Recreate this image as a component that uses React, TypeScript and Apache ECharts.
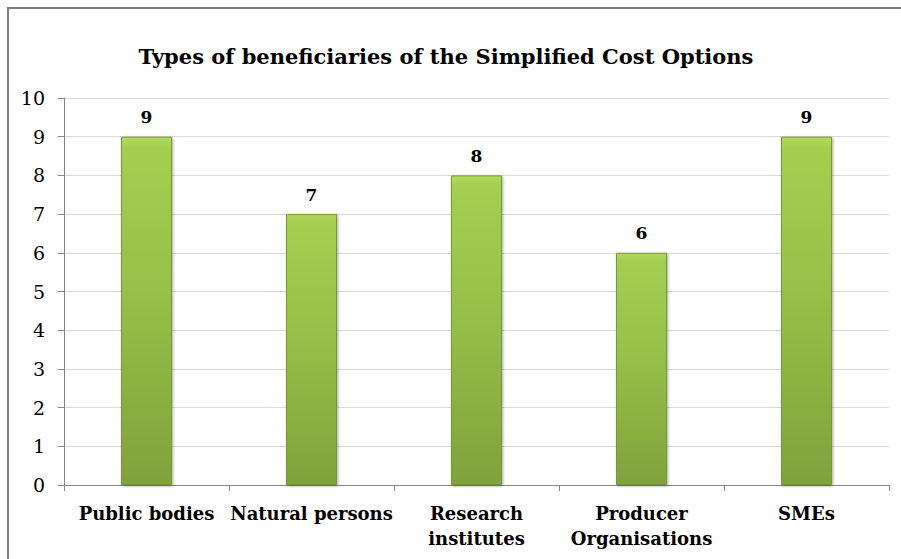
import React, { useEffect, useRef } from "react";
import * as echarts from "echarts";

const categories = ["Public bodies", "Natural persons", "Research\ninstitutes", "Producer\nOrganisations", "SMEs"];
const values = [9, 7, 8, 6, 9];
const titleText = "Types of beneficiaries of the Simplified Cost Options";
const FONT = "'DejaVu Serif', serif";

export default function App() {
  const ref = useRef<HTMLDivElement>(null);
  useEffect(() => {
    if (!ref.current) return;
    const chart = echarts.init(ref.current, null, { renderer: "svg" });
    chart.setOption({
      animation: false,
      backgroundColor: "#ffffff",
      title: {
        text: titleText,
        left: 432,
        top: 32,
        textAlign: "center",
        textStyle: { fontFamily: FONT, fontWeight: "bold", fontSize: 21, color: "#000" },
      },
      grid: { left: 55, top: 89, width: 825, height: 387, containLabel: false },
      xAxis: {
        type: "category",
        data: categories,
        axisLine: { lineStyle: { color: "#868686" } },
        axisTick: { show: true, alignWithLabel: false, length: 6, lineStyle: { color: "#868686" } },
        axisLabel: {
          interval: 0,
          fontFamily: FONT,
          fontWeight: "bold",
          fontSize: 18,
          color: "#000",
          lineHeight: 25,
          margin: 16,
        },
      },
      yAxis: {
        type: "value",
        min: 0,
        max: 10,
        interval: 1,
        axisLine: { show: true, lineStyle: { color: "#868686" } },
        axisTick: { show: true, length: 6, inside: false, lineStyle: { color: "#868686" } },
        splitLine: { lineStyle: { color: "#d9d9d9" } },
        axisLabel: { fontFamily: FONT, fontSize: 19, color: "#000", margin: 19 },
      },
      series: [
        {
          type: "bar",
          data: values,
          barWidth: 51,
          itemStyle: {
            color: new echarts.graphic.LinearGradient(0, 0, 0, 1, [
              { offset: 0, color: "#b2da5e" },
              { offset: 0.03, color: "#a4cf50" },
              { offset: 0.45, color: "#96c048" },
              { offset: 1, color: "#80a23b" },
            ]),
            borderColor: "#7a9838",
            borderWidth: 1,
            shadowColor: "rgba(0,0,0,0.35)",
            shadowBlur: 3,
            shadowOffsetX: 1,
            shadowOffsetY: 1,
          },
          label: {
            show: true,
            position: "top",
            distance: 11,
            fontFamily: FONT,
            fontWeight: "bold",
            fontSize: 17,
            color: "#000",
          },
        },
      ],
    });
    return () => chart.dispose();
  }, []);
  return (
    <div
      style={{
        position: "fixed",
        left: 0,
        top: 0,
        width: 901,
        height: 559,
        overflow: "hidden",
        background: "#ffffff",
      }}
    >
      <div
        ref={ref}
        style={{
          position: "absolute",
          left: 7,
          top: 7,
          width: 900,
          height: 560,
          borderLeft: "2px solid #7f7f7f",
          borderTop: "2px solid #7f7f7f",
        }}
      />
    </div>
  );
}
